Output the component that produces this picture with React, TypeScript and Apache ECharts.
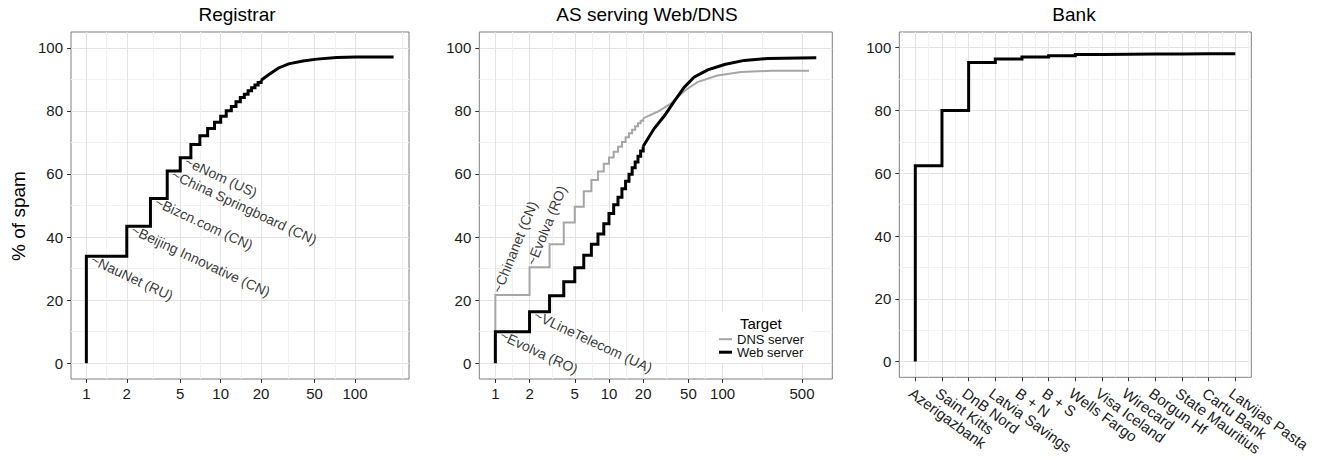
import React, { useEffect, useRef } from "react";
import * as echarts from "echarts";

// ---------------- data ----------------
const registrarRanks = [1, 2, 3, 4, 5, 6, 7, 8, 9, 10, 11, 12, 13, 14, 15, 16, 17, 18, 19, 20];
const registrarPct = [33.9, 43.4, 52.2, 60.9, 65.1, 69.3, 72.1, 74.4, 76.4, 78.3, 80.0, 81.4, 82.9, 84.2, 85.3, 86.4, 87.3, 88.2, 89.0, 89.7];
const registrarTailRanks = [20, 23, 27, 32, 41, 52, 73, 102, 194];
const registrarTailPct = [89.7, 91.6, 93.6, 94.9, 95.8, 96.4, 96.9, 97.1, 97.1];
const registrarLabels = ["NauNet (RU)", "Beijing Innovative (CN)", "Bizcn.com (CN)", "China Springboard (CN)", "eNom (US)"];

const asRanks = [1, 2, 3, 4, 5, 6, 7, 8, 9, 10, 11, 12, 13, 14, 15, 16, 17, 18, 19, 20];
const dnsPct = [21.6, 30.4, 37.7, 44.6, 49.6, 54.5, 58.1, 60.8, 63.2, 65.2, 67.0, 68.6, 70.1, 71.6, 72.9, 74.0, 75.1, 76.1, 76.9, 77.6];
const dnsTailRanks = [20, 27, 35, 46, 60, 90, 145, 267, 575];
const dnsTailPct = [77.6, 79.8, 82.3, 86.3, 89.1, 91.2, 92.3, 92.7, 92.7];
const webPct = [10.0, 16.3, 21.4, 25.8, 30.3, 34.2, 37.7, 41.0, 44.2, 47.5, 50.2, 52.6, 55.3, 57.7, 59.9, 62.0, 63.8, 65.6, 67.3, 68.8];
const webTailRanks = [20, 25, 31, 38, 46, 56, 74, 104, 155, 250, 667];
const webTailPct = [68.8, 74.4, 78.6, 83.3, 87.5, 90.7, 93.0, 94.7, 96.0, 96.6, 96.8];
const dnsLabels = ["Chinanet (CN)", "Evolva (RO)"];
const webLabels = ["Evolva (RO)", "VLineTelecom (UA)"];

const banks = ["Azerigazbank", "Saint Kitts", "DnB Nord", "Latvia Savings", "B + N", "B + S", "Wells Fargo", "Visa Iceland", "Wirecard", "Borgun Hf", "State Mauritius", "Cartu Bank", "Latvijas Pasta"];
const bankPct = [62.4, 80.0, 95.3, 96.4, 97.0, 97.4, 97.8, 97.9, 98.0, 98.0, 98.1, 98.1, 98.1];

const logBreaks = [1, 2, 5, 10, 20, 50, 100, 500];
const yBreaks = [0, 20, 40, 60, 80, 100];
const yMinorBreaks = [10, 30, 50, 70, 90];

const panelTitles = ["Registrar", "AS serving Web/DNS", "Bank"];

// ---------------- helpers ----------------
const FONT = "Liberation Sans";
const lg = (v: number) => Math.log10(v);

const logMajor = logBreaks.map(lg);
const logMinor: number[] = [];
for (let i = 0; i < logMajor.length - 1; i++) logMinor.push((logMajor[i] + logMajor[i + 1]) / 2);
const bankMajor = banks.map((_, i) => i);
const bankMinor = [-0.5, ...banks.map((_, i) => i + 0.5)];

function expandLog(lo: number, hi: number) {
  const a = lg(lo), b = lg(hi);
  const p = 0.05 * (b - a);
  return [a - p, b + p];
}
const x0 = expandLog(1, registrarTailRanks[registrarTailRanks.length - 1]);
const x1 = expandLog(1, webTailRanks[webTailRanks.length - 1]);
const x2 = [-0.6, banks.length - 1 + 0.6];

const majorSplit = { show: true, lineStyle: { color: "#e3e3e3", width: 1 } };
const minorSplit = { show: true, lineStyle: { color: "#f2f2f2", width: 1 } };
const TICK_FS = 15;

function mainX(gridIndex: number, ext: number[], ticks: number[], formatter: any, extra: any = {}) {
  return {
    type: "value", gridIndex, min: ext[0], max: ext[1], position: "bottom",
    axisLine: { show: false, onZero: false },
    axisTick: { show: true, length: 4, lineStyle: { color: "#333", width: 1 }, customValues: ticks },
    axisLabel: { customValues: ticks, formatter, fontSize: TICK_FS, color: "#1a1a1a", margin: 7, fontFamily: FONT, ...extra },
    splitLine: majorSplit,
  };
}
function minorX(gridIndex: number, ext: number[], ticks: number[]) {
  return {
    type: "value", gridIndex, min: ext[0], max: ext[1], position: "bottom",
    axisLine: { show: false, onZero: false },
    axisTick: { show: false, customValues: ticks },
    axisLabel: { show: false, customValues: ticks },
    splitLine: minorSplit,
  };
}
function mainY(gridIndex: number) {
  return {
    type: "value", gridIndex, min: -5, max: 105, position: "left",
    axisLine: { show: false, onZero: false },
    axisTick: { show: true, length: 4, lineStyle: { color: "#333", width: 1 }, customValues: yBreaks },
    axisLabel: { customValues: yBreaks, fontSize: TICK_FS, color: "#1a1a1a", margin: 8, fontFamily: FONT },
    splitLine: majorSplit,
  };
}
function minorY(gridIndex: number) {
  return {
    type: "value", gridIndex, min: -5, max: 105, position: "left",
    axisLine: { show: false, onZero: false },
    axisTick: { show: false, customValues: yMinorBreaks },
    axisLabel: { show: false, customValues: yMinorBreaks },
    splitLine: minorSplit,
  };
}

const logFmt = (v: number) => String(Math.round(Math.pow(10, v)));
const bankFmt = (v: number) => banks[Math.round(v)] ?? "";

function stepData(ranks: number[], pct: number[]) {
  return [[lg(ranks[0]), 0], ...ranks.map((r, i) => [lg(r), pct[i]])];
}
function tailData(ranks: number[], pct: number[]) {
  return ranks.map((r, i) => [lg(r), pct[i]]);
}
function annot(names: string[], ranks: number[], pct: number[]) {
  return names.map((n, i) => ({ name: "~" + n, value: [lg(ranks[i]), pct[i]] }));
}

const BLACK = { color: "#000", width: 3, join: "miter" as const, cap: "butt" as const };
const GREY = { color: "#a6a6a6", width: 2, join: "miter" as const, cap: "butt" as const };

function lineSeries(name: string, xi: number, yi: number, data: any[], style: any, step: boolean) {
  return {
    type: "line", name, xAxisIndex: xi, yAxisIndex: yi, data, step: step ? "end" : false,
    symbol: "none", showSymbol: false, lineStyle: style, itemStyle: { color: style.color },
    silent: true, z: style === BLACK ? 4 : 3,
  };
}
function annotSeries(xi: number, yi: number, data: any[], rotate: number, offset: number[]) {
  return {
    type: "scatter", xAxisIndex: xi, yAxisIndex: yi, data, symbolSize: 0,
    itemStyle: { color: "#000" }, silent: true, z: 5,
    label: {
      show: true, formatter: "{b}", position: [0, 0], align: "left", verticalAlign: "middle",
      rotate, offset, fontSize: 14, color: "#000", fontFamily: FONT,
    },
  };
}

const grids = [
  { left: 71, top: 32, width: 338, height: 347 },
  { left: 479.3, top: 32, width: 353, height: 347 },
  { left: 899.3, top: 32, width: 352, height: 347 },
].map((g) => ({ ...g, show: true, borderColor: "#7f7f7f", borderWidth: 1, backgroundColor: "rgba(0,0,0,0)", containLabel: false }));

const titleCenters = [237, 647, 1074];

const option: any = {
  animation: false,
  textStyle: { fontFamily: FONT },
  grid: grids,
  xAxis: [
    minorX(0, x0, logMinor), mainX(0, x0, logMajor, logFmt),
    minorX(1, x1, logMinor), mainX(1, x1, logMajor, logFmt),
    minorX(2, x2, bankMinor), mainX(2, x2, bankMajor, bankFmt, { rotate: -36, margin: 8, verticalAlign: "top", fontSize: 15 }),
  ],
  yAxis: [minorY(0), mainY(0), minorY(1), mainY(1), minorY(2), mainY(2)],
  legend: {
    data: [
      { name: "DNS server", icon: "path://M0,0H13V2H0Z" },
      { name: "Web server", icon: "path://M0,0H13V3H0Z" },
    ],
    orient: "vertical", left: 713, top: 311.7,
    padding: [21, 8, 4, 6], backgroundColor: "#fff", itemWidth: 13, itemHeight: 13, itemGap: 0,
    textStyle: { fontSize: 13, color: "#111", fontFamily: FONT }, selectedMode: false,
  },
  series: [
    lineSeries("Registrar", 1, 1, stepData(registrarRanks, registrarPct), BLACK, true),
    lineSeries("Registrar tail", 1, 1, tailData(registrarTailRanks, registrarTailPct), BLACK, false),
    annotSeries(1, 1, annot(registrarLabels, registrarRanks, registrarPct), -25, [6, 0]),

    lineSeries("DNS server", 3, 3, stepData(asRanks, dnsPct), GREY, true),
    lineSeries("DNS server", 3, 3, tailData(dnsTailRanks, dnsTailPct), GREY, false),
    lineSeries("Web server", 3, 3, stepData(asRanks, webPct), BLACK, true),
    lineSeries("Web server", 3, 3, tailData(webTailRanks, webTailPct), BLACK, false),
    annotSeries(3, 3, annot(dnsLabels, asRanks, dnsPct), 68, [3, 0]),
    annotSeries(3, 3, annot(webLabels, asRanks, webPct), -25, [6, 0]),

    lineSeries("Bank", 5, 5, [[0, 0], ...bankPct.map((p, i) => [i, p])], BLACK, true),
  ],
  graphic: [
    ...panelTitles.map((t, i) => ({
      type: "text", x: titleCenters[i], y: 14,
      style: { text: t, fontSize: 19, fontFamily: FONT, fill: "#000", align: "center", verticalAlign: "middle" },
    })),
    {
      type: "text", x: 18, y: 216, rotation: Math.PI / 2,
      style: { text: "% of spam", fontSize: 19, fontFamily: FONT, fill: "#000", align: "center", verticalAlign: "middle" },
    },
    {
      type: "text", x: 740, y: 323, z: 100,
      style: { text: "Target", fontSize: 15, fontFamily: FONT, fill: "#000", align: "left", verticalAlign: "middle" },
    },
  ],
};

export default function App() {
  const ref = useRef<HTMLDivElement>(null);
  useEffect(() => {
    if (!ref.current) return;
    const chart = echarts.init(ref.current, null, { renderer: "svg" });
    chart.setOption(option);
    return () => chart.dispose();
  }, []);
  return (
    <div
      ref={ref}
      style={{ position: "fixed", left: 0, top: 0, width: 1324, height: 458, background: "#fff" }}
    />
  );
}
